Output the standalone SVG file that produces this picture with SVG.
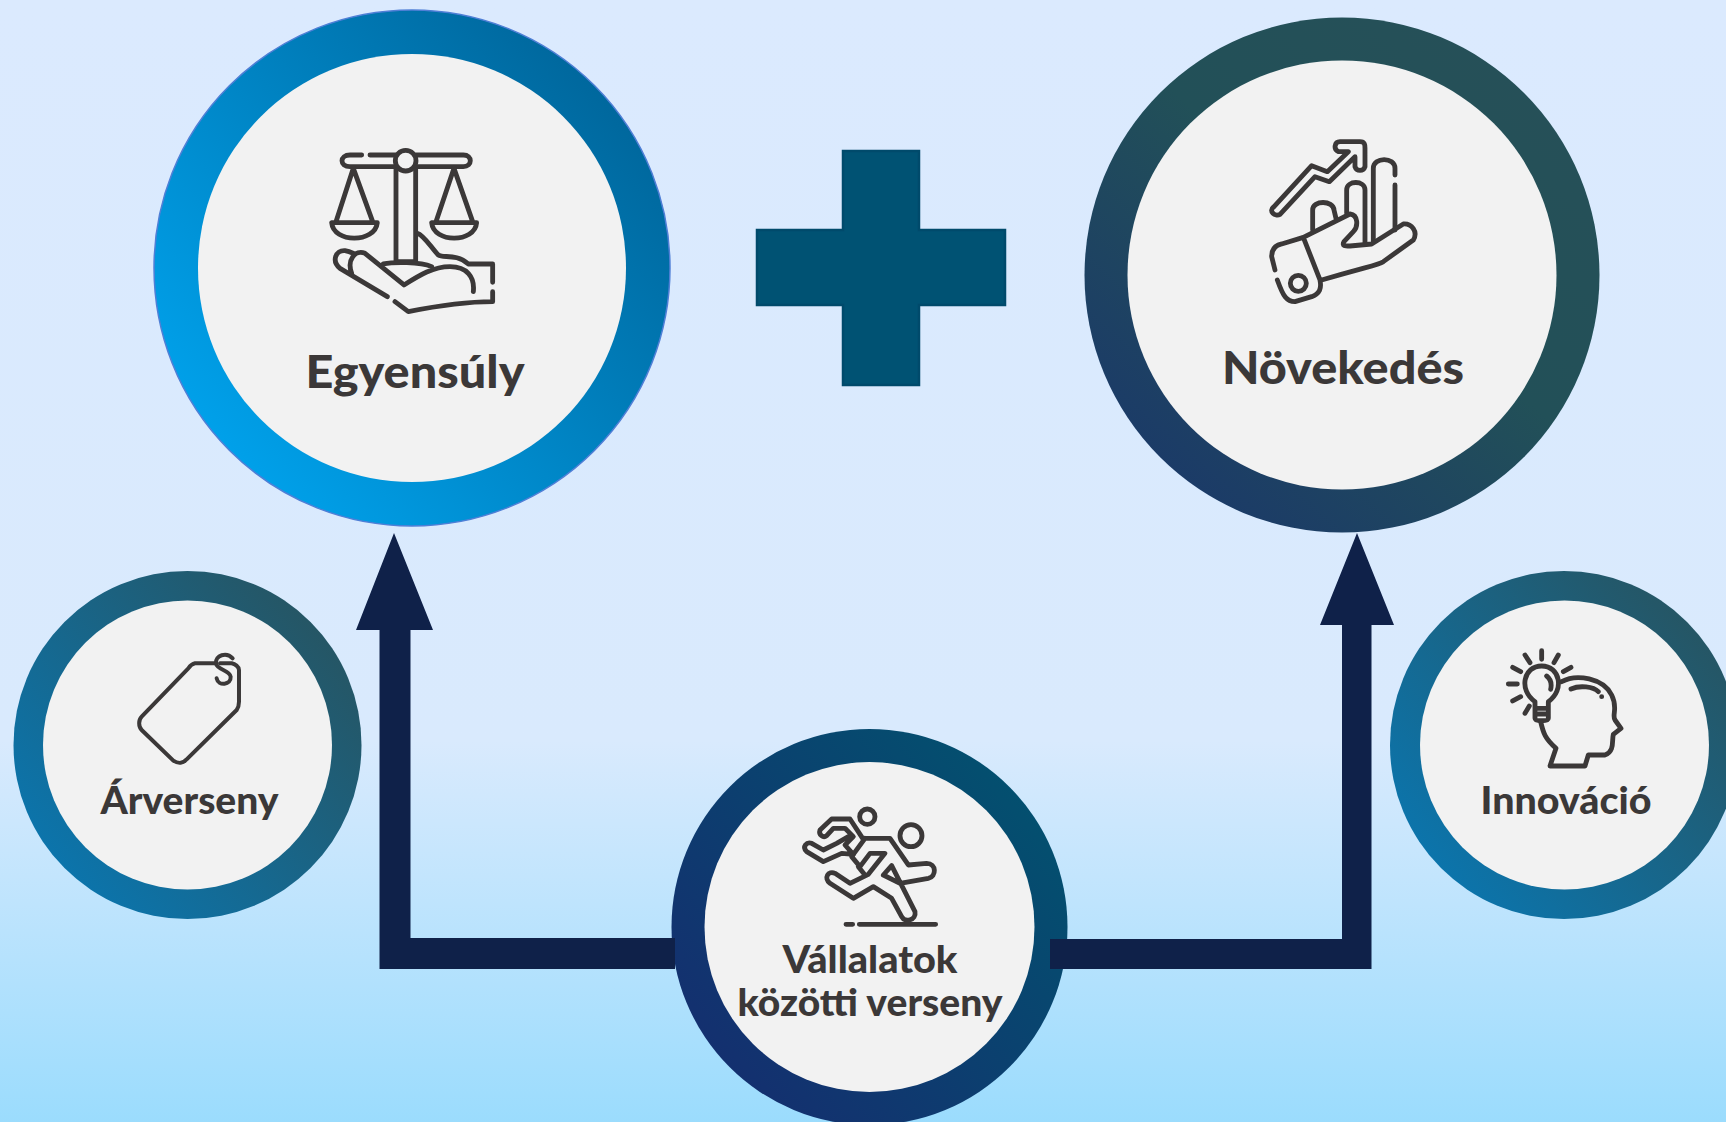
<svg xmlns="http://www.w3.org/2000/svg" width="1726" height="1122" viewBox="0 0 1726 1122">
<style>
.disc{fill:#f2f2f2}
.ic{fill:none;stroke:#3b3838;stroke-width:14.500;stroke-linecap:round;stroke-linejoin:round}
.lb{font-family:"Lato","Liberation Sans",sans-serif;font-weight:900;fill:#3b3838;text-anchor:middle}
.arrow{fill:#0f2149}
</style>
<defs>
<linearGradient id="bg" x1="0" y1="0" x2="0" y2="1"><stop offset="0" stop-color="#dbeafe"/><stop offset="0.66" stop-color="#d9eafd"/><stop offset="1" stop-color="#9bdcfd"/></linearGradient>
<linearGradient id="g1" x1="0.1" y1="0.85" x2="0.9" y2="0.15"><stop offset="0" stop-color="#00a2ec"/><stop offset="1" stop-color="#00669b"/></linearGradient>
<linearGradient id="g2" x1="0.15" y1="0.9" x2="0.85" y2="0.1"><stop offset="0" stop-color="#1b3a68"/><stop offset="0.55" stop-color="#225058"/><stop offset="1" stop-color="#265058"/></linearGradient>
<linearGradient id="g3" x1="0.1" y1="0.85" x2="0.9" y2="0.15"><stop offset="0" stop-color="#0b75ad"/><stop offset="1" stop-color="#265563"/></linearGradient>
<linearGradient id="g4" x1="0.1" y1="0.85" x2="0.9" y2="0.15"><stop offset="0" stop-color="#142f6f"/><stop offset="1" stop-color="#03506f"/></linearGradient>
</defs>
<rect width="1726" height="1122" fill="url(#bg)"/>
<path id="plus" d="M843 151H919V230H1005V305H919V385H843V305H757V230H843Z" fill="#005273" stroke="#004a6b" stroke-width="2.500"/>
<g id="egyensuly">
<circle cx="412" cy="268" r="258" fill="url(#g1)" stroke="#4f7fd6" stroke-width="1.500"/>
<circle class="disc" cx="412" cy="268" r="214"/>
<g class="ic" transform="translate(300 120) scale(.3333)">
<path d="M185 105H150C118 105 118 140 150 140H288M210 105H288M348 105H490C518 105 518 140 490 140H348"/>
<circle cx="317" cy="122" r="31"/>
<path d="M288 148V425H347V148M160 145L108 305M160 145L218 305M95 308H232C225 370 100 370 95 308ZM462 145L408 305M462 145L518 305M395 308H530C525 370 400 370 395 308Z"/>
<path d="M262 530L120 445C95 425 105 390 135 392C150 395 155 398 165 402M155 460C140 420 165 388 195 400L312 495C360 465 400 440 450 440C500 440 525 470 520 515M250 432C280 426 360 425 395 440M352 340C372 345 395 385 415 405C430 415 470 400 505 432H578V487M578 515V545C500 545 400 560 325 575L285 545"/>
</g>
<text class="lb" x="415" y="388" font-size="45" textLength="219" lengthAdjust="spacingAndGlyphs">Egyensúly</text>
</g>
<g id="novekedes">
<circle cx="1342" cy="275" r="257.500" fill="url(#g2)"/>
<circle class="disc" cx="1342" cy="275" r="214.500"/>
<g class="ic" transform="translate(1240 120) scale(.3333)">
<path d="M100 262L215 137L262 155L325 95H295C280 88 283 65 300 65H360C375 65 375 75 375 85V140C370 155 350 155 345 140V110L268 185L225 170L120 283C105 292 85 272 100 262Z"/>
<path d="M218 330V270C218 240 280 240 282 270L288 295M320 280V210C320 180 375 180 375 210V370M400 365V145C400 110 465 110 465 145V165M465 195V330"/>
<path d="M105 450L95 410C95 385 110 375 125 372L190 352L330 282C355 285 355 320 340 335L312 365C305 378 315 378 330 378L395 372L490 312C515 310 535 335 520 360L430 425C415 435 400 435 245 480M190 352L240 480C245 505 240 520 215 530L165 545C140 545 130 530 112 480"/>
<circle cx="175" cy="490" r="24"/>
</g>
<text class="lb" x="1343" y="383.500" font-size="45" textLength="242" lengthAdjust="spacingAndGlyphs">Növekedés</text>
</g>
<g id="arverseny">
<circle cx="187.500" cy="745" r="174" fill="url(#g3)"/>
<circle class="disc" cx="187.500" cy="745" r="144.500"/>
<g class="ic" transform="translate(120 640) scale(.3333)" style="stroke-width:12">
<path d="M285 70H225C215 72 210 78 205 85L65 230C55 240 55 260 65 270L160 362C175 372 190 370 200 358L350 210C355 203 357 195 357 185V90C357 80 345 72 335 70H300"/>
<path d="M338 55C320 35 285 45 288 70C290 90 330 90 332 110C334 135 295 140 290 115"/>
</g>
<text class="lb" x="189.500" y="814" font-size="38" textLength="178" lengthAdjust="spacingAndGlyphs">Árverseny</text>
</g>
<g id="innovacio">
<circle cx="1564" cy="745" r="174" fill="url(#g3)"/>
<circle class="disc" cx="1564.500" cy="745" r="144.500"/>
<g class="ic" transform="translate(1490 640) scale(.3333)">
<path d="M135 185C85 150 100 78 155 78C210 78 225 150 175 185V235C175 245 135 245 135 235ZM135 205H175M135 222H175M170 108C185 120 185 135 182 148"/>
<path d="M155 32V58M105 45L120 68M205 45L192 68M68 82L92 95M243 82L220 95M55 132H82M68 183L92 170M105 220L118 198"/>
<path d="M215 125C260 100 340 115 365 165C385 205 365 225 375 240L393 265L370 283C365 300 375 335 345 345H295L285 378H180L198 325C165 295 160 280 152 245M243 147C270 135 310 140 325 155M335 170H335.100"/>
</g>
<text class="lb" x="1566" y="814" font-size="38" textLength="171" lengthAdjust="spacingAndGlyphs">Innováció</text>
</g>
<g id="verseny">
<circle cx="869.500" cy="927" r="198" fill="url(#g4)"/>
<circle class="disc" cx="869.500" cy="927" r="165"/>
<g class="ic" transform="translate(790 795) scale(.3333)">
<circle cx="232" cy="65" r="23"/>
<circle cx="363" cy="122" r="33"/>
<path d="M218 130L180 72H125L90 105C85 120 100 130 110 122L130 100H165L190 125L165 150L190 178L155 175L100 200L50 170C35 155 50 140 65 145L100 165L140 145L175 125"/>
<path d="M225 130H300L355 210L410 205C440 205 440 245 415 250L330 265L280 240L305 212L375 350C380 375 345 385 335 365L305 310L250 275L190 310L120 265C100 250 115 225 135 235L180 265L235 238L285 175H240L210 215L185 185L225 130M205 215L225 240"/>
<path d="M168 388H188M208 388H437"/>
</g>
<text class="lb" x="870" y="973" font-size="38" textLength="175" lengthAdjust="spacingAndGlyphs">Vállalatok</text>
<text class="lb" x="870" y="1016" font-size="38" textLength="265" lengthAdjust="spacingAndGlyphs">közötti verseny</text>
</g>
<g id="connectors">
<path class="arrow" d="M675 938H410.500V630H433L394 533L356 630H379.500V969H675Z"/>
<path class="arrow" d="M1050 939H1342V625H1320L1357 533L1394 625H1371.500V969H1050Z"/>
</g>
</svg>
